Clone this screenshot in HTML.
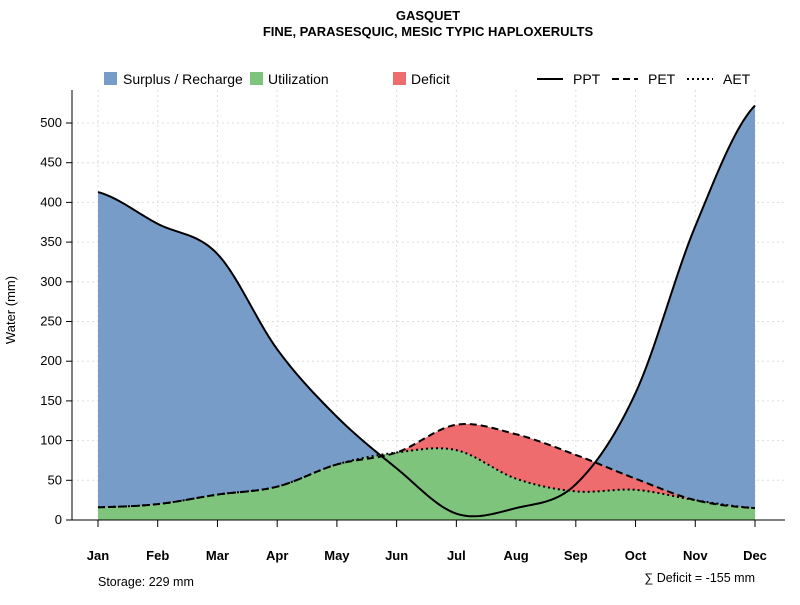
<!DOCTYPE html>
<html><head><meta charset="utf-8"><style>
body{margin:0;background:#fff;font-family:"Liberation Sans",sans-serif}
</style></head><body>
<svg id="c" width="800" height="600" xmlns="http://www.w3.org/2000/svg" font-family="Liberation Sans, sans-serif">
<text x="428" y="20" text-anchor="middle" font-size="13" font-weight="bold">GASQUET</text>
<text x="428" y="36" text-anchor="middle" font-size="13" font-weight="bold">FINE, PARASESQUIC, MESIC TYPIC HAPLOXERULTS</text>
<g id="grid"></g><g id="areas"></g><g id="lines"></g><g id="axes"></g>
<g font-size="14">
<rect x="104" y="72" width="13" height="13" fill="#779cc8"/>
<text x="123" y="84">Surplus / Recharge</text>
<rect x="250" y="72" width="13" height="13" fill="#7fc47c"/>
<text x="268" y="84">Utilization</text>
<rect x="393" y="72" width="13" height="13" fill="#ee6b6e"/>
<text x="411" y="84">Deficit</text>
<line x1="537" y1="79" x2="563" y2="79" stroke="#000" stroke-width="2"/>
<text x="573" y="84">PPT</text>
<line x1="612" y1="79" x2="638" y2="79" stroke="#000" stroke-width="2" stroke-dasharray="7,4"/>
<text x="648" y="84">PET</text>
<line x1="687" y1="79" x2="713" y2="79" stroke="#000" stroke-width="2" stroke-dasharray="2,3"/>
<text x="723" y="84">AET</text>
</g>
<text x="98" y="586" font-size="12.5">Storage: 229 mm</text>
<text x="755" y="582" text-anchor="end" font-size="12.5">∑ Deficit = -155 mm</text>
</svg>
<script>
const months=["Jan","Feb","Mar","Apr","May","Jun","Jul","Aug","Sep","Oct","Nov","Dec"];
const ppt=[413,373,335,215,130,65,8,15,45,160,370,522];
const pet=[16,20,32,42,70,85,120,108,82,52,25,15];
const aet=[16,20,32,42,70,85,88,52,36,38,25,15];
const yTicks=[0,50,100,150,200,250,300,350,400,450,500];
const NS="http://www.w3.org/2000/svg";
const xs=i=>98+i*(755-98)/11, ys=v=>520-v*0.794;
function mk(p,t,a){const e=document.createElementNS(NS,t);for(const k in a)e.setAttribute(k,a[k]);p.appendChild(e);return e;}
function dense(arr){const out=[];const n=arr.length;for(let i=0;i<n-1;i++){const p0=arr[Math.max(i-1,0)],p1=arr[i],p2=arr[i+1],p3=arr[Math.min(i+2,n-1)];for(let s=0;s<20;s++){const t=s/20,t2=t*t,t3=t2*t;out.push([i+t,0.5*(2*p1+(-p0+p2)*t+(2*p0-5*p1+4*p2-p3)*t2+(-p0+3*p1-3*p2+p3)*t3)]);}}out.push([n-1,arr[n-1]]);return out;}
const dP=dense(ppt),dE=dense(pet),dA=dense(aet);
const grid=document.getElementById('grid'),areas=document.getElementById('areas'),lines=document.getElementById('lines'),axes=document.getElementById('axes');
yTicks.forEach(v=>{const l=mk(grid,'line',{x1:72,x2:785,y1:ys(v),y2:ys(v),stroke:'#ddd','stroke-dasharray':'2,3'});});
months.forEach((m,i)=>{const l=mk(grid,'line',{x1:xs(i),x2:xs(i),y1:90,y2:520,stroke:'#ddd','stroke-dasharray':'2,3'});});
function area(d,fill,name){const pts=d.map(p=>xs(p[0])+','+ys(Math.max(0,p[1]))).join(' ');const e=mk(areas,'polygon',{points:xs(0)+','+ys(0)+' '+pts+' '+xs(11)+','+ys(0),fill});}
area(dP,'#779cc8','surplus-area');area(dE,'#ee6b6e','deficit-area');area(dA,'#7fc47c','utilization-area');
function line(d,dash,name){const e=mk(lines,'polyline',{points:d.map(p=>xs(p[0])+','+ys(p[1])).join(' '),fill:'none',stroke:'#000','stroke-width':2,'stroke-dasharray':dash});}
line(dP,'none','ppt-line');line(dE,'7,4','pet-line');line(dA,'2,3','aet-line');
let e=mk(axes,'line',{x1:72,x2:72,y1:90,y2:520,stroke:'#000'});
yTicks.forEach(v=>{let t=mk(axes,'line',{x1:66,x2:72,y1:ys(v),y2:ys(v),stroke:'#000'});
let tx=mk(axes,'text',{x:62,y:ys(v)+4,'text-anchor':'end','font-size':13});tx.textContent=v;});
e=mk(axes,'line',{x1:72,x2:785,y1:520,y2:520,stroke:'#000'});
months.forEach((m,i)=>{let t=mk(axes,'line',{x1:xs(i),x2:xs(i),y1:520,y2:527,stroke:'#000'});
let tx=mk(axes,'text',{x:xs(i),y:560,'text-anchor':'middle','font-size':13,'font-weight':'bold'});tx.textContent=m;});
e=mk(axes,'text',{x:15,y:310,transform:'rotate(-90 15 310)','text-anchor':'middle','font-size':13});e.textContent='Water (mm)';
</script>
</body></html>
